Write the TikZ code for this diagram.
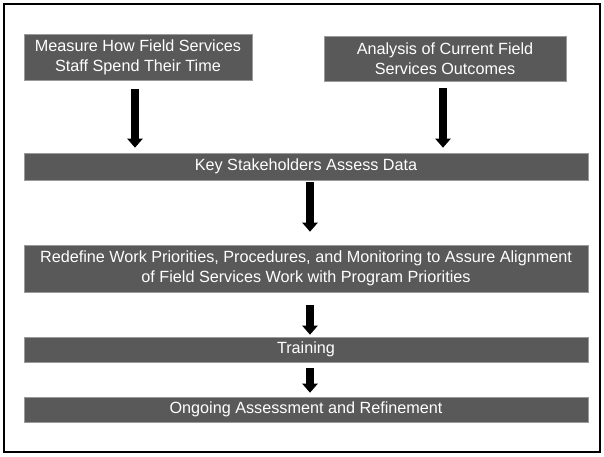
\documentclass[tikz,border=0pt]{standalone}
\usepackage{fontspec}
\setmainfont{Liberation Sans}
\usetikzlibrary{arrows.meta}
\definecolor{boxgray}{HTML}{595959}
\definecolor{edgegray}{HTML}{9A9A9A}
\tikzset{
  stepbox/.style={rectangle, fill=boxgray, draw=edgegray, line width=0.6pt,
    text=white, font=\fontsize{16.2}{20}\selectfont, align=center, inner sep=0pt},
  bigarrow/.style={line width=8pt, -{Triangle[width=15pt,length=9pt]}}
}
\begin{document}
\begin{tikzpicture}[x=1pt,y=-1pt]
\useasboundingbox (0,0) rectangle (604,456);
\draw[line width=1.3pt] (4,4) rectangle (600,452);
\node[stepbox, minimum width=228pt, minimum height=46pt] (b1) at (138,57.5)
  {Measure How Field Services\\Staff Spend Their Time};
\node[stepbox, minimum width=242pt, minimum height=45pt] (b2) at (445,58.5)
  {Analysis of Current Field\\Services Outcomes};
\node[stepbox, minimum width=564pt, minimum height=27pt] (b3) at (306,166.5)
  {Key Stakeholders Assess Data};
\node[stepbox, minimum width=564pt, minimum height=47pt] (b4) at (306,268.5)
  {Redefine Work Priorities, Procedures, and Monitoring to Assure Alignment\\of Field Services Work with Program Priorities};
\node[stepbox, minimum width=564pt, minimum height=25pt] (b5) at (306,349.5)
  {Training};
\node[stepbox, minimum width=564pt, minimum height=25pt] (b6) at (306,409.5)
  {Ongoing Assessment and Refinement};
\draw[bigarrow, shorten <=8.5pt, shorten >=5pt] ([xshift=-3pt]b1.south) -- ([xshift=-3pt]b1.south |- b3.north);
\draw[bigarrow, shorten <=7pt, shorten >=5pt] ([xshift=-2pt]b2.south) -- ([xshift=-2pt]b2.south |- b3.north);
\draw[bigarrow, shorten <=2pt, shorten >=13pt] ([xshift=4pt]b3.south) -- ([xshift=4pt]b3.south |- b4.north);
\draw[bigarrow, shorten <=13pt, shorten >=2pt] ([xshift=4pt]b4.south) -- ([xshift=4pt]b4.south |- b5.north);
\draw[bigarrow, shorten <=6pt, shorten >=4pt] ([xshift=4pt]b5.south) -- ([xshift=4pt]b5.south |- b6.north);
\end{tikzpicture}
\end{document}
